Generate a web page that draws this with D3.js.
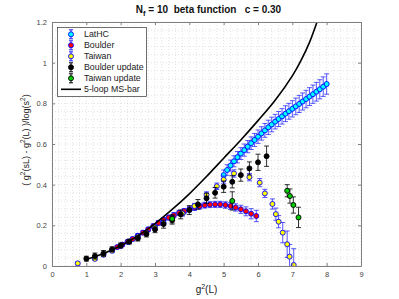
<!DOCTYPE html>
<html>
<head>
<meta charset="utf-8">
<script src="https://cdn.jsdelivr.net/npm/d3@7"></script>
<style>
  body { margin: 0; background: #fff; }
  text { font-family: "Liberation Sans", Arial, sans-serif; }
</style>
</head>
<body>
<div id="chart"></div>
<script>
// ---- data ----
const latG = [5.0,5.1,5.2,5.3,5.4,5.5,5.6,5.7,5.8,5.9,6.0,6.1,6.2,6.3,6.4,6.5,6.6,6.7,6.8,6.9,7.0,7.1,7.2,7.3,7.4,7.5,7.6,7.7,7.8,7.9,8.0];
const latV = [0.447,0.472,0.494,0.515,0.535,0.553,0.570,0.587,0.604,0.620,0.636,0.652,0.667,0.682,0.696,0.710,0.723,0.736,0.749,0.761,0.773,0.785,0.797,0.809,0.821,0.833,0.845,0.857,0.869,0.882,0.895];
const latE = [0.025,0.026,0.027,0.027,0.028,0.029,0.030,0.030,0.031,0.032,0.033,0.033,0.034,0.035,0.036,0.036,0.037,0.038,0.039,0.039,0.040,0.041,0.042,0.042,0.043,0.044,0.045,0.046,0.047,0.048,0.050];

const bouG = [1.90,2.05,2.20,2.35,2.50,2.65,2.80,2.95,3.10,3.25,3.40,3.55,3.70,3.85,4.00,4.15,4.30,4.45,4.60,4.75,4.90,5.05,5.20,5.35,5.50,5.65,5.80,5.95];
const bouV = [0.093,0.105,0.119,0.133,0.149,0.164,0.180,0.196,0.212,0.226,0.238,0.250,0.261,0.270,0.279,0.287,0.294,0.299,0.302,0.303,0.303,0.300,0.295,0.288,0.279,0.269,0.257,0.246];
const bouE = [0.008,0.008,0.009,0.009,0.010,0.010,0.011,0.011,0.012,0.012,0.012,0.013,0.013,0.013,0.013,0.014,0.014,0.014,0.014,0.015,0.015,0.016,0.017,0.018,0.020,0.022,0.025,0.028];

const taiG = [0.75,1.25,1.5,1.75,2.0,2.25,2.5,2.75,3.0,3.25,3.5,3.8,4.15,4.5,4.8,5.0,5.3,5.75,6.05,6.2,6.42,6.52,6.6,6.72,6.85,6.92,7.04];
const taiV = [0.013,0.035,0.055,0.075,0.098,0.120,0.145,0.165,0.190,0.212,0.235,0.258,0.295,0.350,0.392,0.425,0.455,0.437,0.410,0.357,0.305,0.255,0.218,0.164,0.107,0.046,0.005];
const taiE = [0.008,0.008,0.008,0.009,0.009,0.010,0.010,0.010,0.011,0.011,0.012,0.012,0.013,0.015,0.016,0.018,0.018,0.018,0.020,0.020,0.025,0.030,0.030,0.050,0.065,0.060,0.080];

const bupG = [1.0,1.25,1.5,1.75,2.0,2.25,2.5,2.75,3.0,3.25,3.5,3.75,4.0,4.25,4.5,4.75,5.0,5.25,5.5,5.75,6.0,6.25];
const bupV = [0.036,0.049,0.062,0.082,0.101,0.120,0.136,0.157,0.180,0.206,0.226,0.254,0.275,0.303,0.333,0.360,0.390,0.414,0.447,0.480,0.510,0.540];
const bupE = [0.012,0.015,0.014,0.012,0.012,0.012,0.013,0.014,0.016,0.020,0.020,0.022,0.022,0.024,0.025,0.026,0.028,0.030,0.030,0.032,0.040,0.050];

const tupG = [3.5,5.25,6.85,6.93,7.03,7.18];
const tupV = [0.232,0.320,0.370,0.344,0.300,0.239];
const tupE = [0.020,0.045,0.030,0.035,0.040,0.050];

const msG = [1.0,1.5,2.0,2.5,3.0,3.5,4.0,4.5,5.0,5.5,6.0,6.5,7.0,7.25,7.5,7.75];
const msV = [0.033,0.062,0.100,0.148,0.208,0.278,0.355,0.440,0.530,0.620,0.715,0.815,0.935,1.010,1.100,1.215];

const xTicks = [0,1,2,3,4,5,6,7,8,9];
const yTicks = [0,0.2,0.4,0.6,0.8,1,1.2];

// ---- layout ----
const W = 399, H = 299;
const m = {left: 52, right: 38, top: 22, bottom: 33};

const svg = d3.select("#chart").append("svg")
  .attr("width", W).attr("height", H);

const x = d3.scaleLinear().domain([0, 9]).range([m.left, W - m.right]);
const y = d3.scaleLinear().domain([0, 1.2]).range([H - m.bottom, m.top]);

// minor grid (dotted)
const grid = svg.append("g");
grid.selectAll(".vg").data(d3.range(0, 9.001, 0.2)).enter().append("line")
  .attr("x1", d => x(d)).attr("x2", d => x(d))
  .attr("y1", y(0)).attr("y2", y(1.2))
  .attr("stroke", "#d0d0d0").attr("stroke-width", 0.6).attr("stroke-dasharray", "1,2");
grid.selectAll(".hg").data(d3.range(0, 1.2001, 0.04)).enter().append("line")
  .attr("x1", x(0)).attr("x2", x(9))
  .attr("y1", d => y(d)).attr("y2", d => y(d))
  .attr("stroke", "#d0d0d0").attr("stroke-width", 0.6).attr("stroke-dasharray", "1,2");

svg.append("clipPath").attr("id", "clip").append("rect")
  .attr("x", x(0)).attr("y", y(1.2)).attr("width", x(9) - x(0)).attr("height", y(0) - y(1.2));

const plot = svg.append("g").attr("clip-path", "url(#clip)");

function drawSeries(gs, vs, es, fill, edge, barColor, barOpacity) {
  const data = gs.map((g, i) => ({g: g, v: vs[i], e: es[i]}));
  const grp = plot.append("g");
  const bars = grp.append("g")
    .attr("stroke", barColor).attr("stroke-width", 1).attr("stroke-opacity", barOpacity);
  bars.selectAll(".eb").data(data).enter().append("line")
    .attr("x1", d => x(d.g)).attr("x2", d => x(d.g))
    .attr("y1", d => y(d.v - d.e)).attr("y2", d => y(d.v + d.e));
  bars.selectAll(".ct").data(data).enter().append("line")
    .attr("x1", d => x(d.g) - 2.5).attr("x2", d => x(d.g) + 2.5)
    .attr("y1", d => y(d.v + d.e)).attr("y2", d => y(d.v + d.e));
  bars.selectAll(".cb").data(data).enter().append("line")
    .attr("x1", d => x(d.g) - 2.5).attr("x2", d => x(d.g) + 2.5)
    .attr("y1", d => y(d.v - d.e)).attr("y2", d => y(d.v - d.e));
  grp.selectAll("circle").data(data).enter().append("circle")
    .attr("cx", d => x(d.g)).attr("cy", d => y(d.v)).attr("r", 2.5)
    .attr("fill", fill).attr("stroke", edge).attr("stroke-width", 0.9);
}

drawSeries(latG, latV, latE, "#00ffff", "#0000ff", "#2020ff", 0.75);
drawSeries(bouG, bouV, bouE, "#ff0000", "#0000ff", "#2020ff", 0.75);
drawSeries(taiG, taiV, taiE, "#ffff00", "#0000ff", "#2020ff", 0.75);
drawSeries(bupG, bupV, bupE, "#000000", "#000000", "#000000", 0.8);
drawSeries(tupG, tupV, tupE, "#00cc00", "#000000", "#000000", 0.8);

const line = d3.line().x((d, i) => x(msG[i])).y(d => y(d)).curve(d3.curveCatmullRom);
plot.append("path").attr("d", line(msV))
  .attr("fill", "none").attr("stroke", "#000").attr("stroke-width", 1.6);

// ---- axes (box with inward ticks) ----
const axisColor = "#808080";
const xAxis = svg.append("g").attr("transform", `translate(0,${y(0)})`)
  .call(d3.axisBottom(x).tickValues(xTicks).tickSizeInner(-3).tickSizeOuter(0).tickPadding(6));
const xTop = svg.append("g").attr("transform", `translate(0,${y(1.2)})`)
  .call(d3.axisTop(x).tickValues(xTicks).tickSizeInner(-3).tickSizeOuter(0).tickFormat(""));
const yAxis = svg.append("g").attr("transform", `translate(${x(0)},0)`)
  .call(d3.axisLeft(y).tickValues(yTicks).tickSizeInner(-3).tickSizeOuter(0).tickPadding(5).tickFormat(d3.format("~g")));
const yRight = svg.append("g").attr("transform", `translate(${x(9)},0)`)
  .call(d3.axisRight(y).tickValues(yTicks).tickSizeInner(-3).tickSizeOuter(0).tickFormat(""));

[xAxis, xTop, yAxis, yRight].forEach(a => {
  a.select(".domain").attr("stroke", axisColor);
  a.selectAll(".tick line").attr("stroke", axisColor);
  a.selectAll(".tick text").attr("fill", "#444").style("font-size", "7.5px")
    .style("font-family", "'Liberation Sans', Arial, sans-serif");
});

// ---- title and labels ----
const title = svg.append("text").attr("x", x(4.5) + 2).attr("y", 13)
  .attr("text-anchor", "middle").style("font-size", "10px").style("font-weight", "bold").attr("fill", "#111");
title.append("tspan").text("N");
title.append("tspan").text("f").attr("dy", 2.5).style("font-size", "7.5px");
title.append("tspan").text(" = 10  beta function   c = 0.30").attr("dy", -2.5).attr("xml:space", "preserve");

const xl = svg.append("text").attr("x", x(4.5)).attr("y", 293)
  .attr("text-anchor", "middle").style("font-size", "10px").attr("fill", "#222");
xl.append("tspan").text("g");
xl.append("tspan").text("2").attr("dy", -4).style("font-size", "7px");
xl.append("tspan").text("(L)").attr("dy", 4);

const yl = svg.append("text")
  .attr("transform", "translate(29,140) rotate(-90)")
  .attr("text-anchor", "middle").style("font-size", "9px").attr("fill", "#222");
const ylParts = [["( g", 0], ["2", -4], ["(sL) - g", 4], ["2", -4], ["(L) )/log(s", 4], ["2", -4], [")", 4]];
ylParts.forEach(p => {
  const t = yl.append("tspan").text(p[0]).attr("dy", p[1]);
  if (p[0] === "2") t.style("font-size", "6.5px");
});

// ---- legend ----
const legNames = ["LatHC", "Boulder", "Taiwan", "Boulder update", "Taiwan update", "5-loop MS-bar"];
const legFill = ["#00ffff", "#ff0000", "#ffff00", "#000000", "#00cc00", null];
const legEdge = ["#0000ff", "#0000ff", "#0000ff", "#000000", "#000000", null];
const legBar = ["#2020ff", "#2020ff", "#2020ff", "#000000", "#000000", null];

const leg = svg.append("g");
leg.append("rect").attr("x", 57.5).attr("y", 27.5).attr("width", 89).attr("height", 69)
  .attr("fill", "#fff").attr("stroke", "#333").attr("stroke-width", 0.7);
legNames.forEach((name, i) => {
  const cy = 34.3 + i * 11;
  if (legFill[i]) {
    leg.append("line").attr("x1", 71).attr("x2", 71).attr("y1", cy - 4.5).attr("y2", cy + 4.5)
      .attr("stroke", legBar[i]).attr("stroke-width", 1);
    [cy - 4.5, cy + 4.5].forEach(yy => leg.append("line")
      .attr("x1", 69).attr("x2", 73).attr("y1", yy).attr("y2", yy)
      .attr("stroke", legBar[i]).attr("stroke-width", 1));
    leg.append("circle").attr("cx", 71).attr("cy", cy).attr("r", 2.5)
      .attr("fill", legFill[i]).attr("stroke", legEdge[i]).attr("stroke-width", 0.9);
  } else {
    leg.append("line").attr("x1", 61).attr("x2", 81).attr("y1", cy).attr("y2", cy)
      .attr("stroke", "#000").attr("stroke-width", 1.6);
  }
  leg.append("text").attr("x", 84).attr("y", cy + 3).text(name)
    .style("font-size", "8.8px").attr("fill", "#222");
});
</script>
</body>
</html>
